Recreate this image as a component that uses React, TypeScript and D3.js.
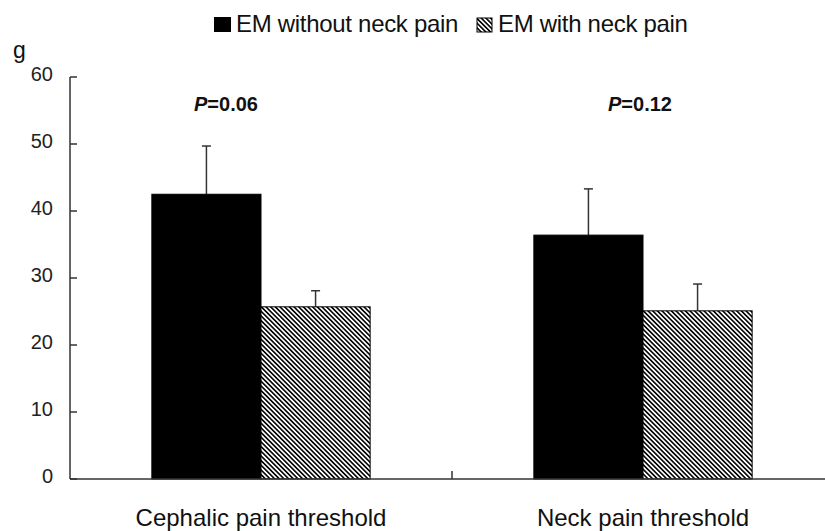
import React from "react";
import * as d3 from "d3";

const categories = ["Cephalic pain threshold", "Neck pain threshold"];
const seriesNames = ["EM without neck pain", "EM with neck pain"];
const withoutNeckPain = [42.5, 36.4];
const withoutNeckPainErr = [49.7, 43.3];
const withNeckPain = [25.7, 25.1];
const withNeckPainErr = [28.1, 29.1];
const pLabels = ["0.06", "0.12"];
const yTicks = [0, 10, 20, 30, 40, 50, 60];
const yUnit = "g";

const W = 825;
const H = 531;
const FONT = "'Liberation Sans', Arial, sans-serif";
const AX = "#333";

export default function App() {
  const y = d3.scaleLinear().domain([0, 60]).range([479, 77]);
  const x0 = d3.scaleBand<string>().domain(categories).range([70, 834]).paddingInner(0).paddingOuter(0);
  const x1 = d3
    .scaleBand<string>()
    .domain(seriesNames)
    .range([0, x0.bandwidth()])
    .paddingInner(0)
    .paddingOuter(0.75);

  const values = [withoutNeckPain, withNeckPain];
  const errs = [withoutNeckPainErr, withNeckPainErr];
  const fills = ["#000", "url(#hatch)"];
  const pOffsets = [-35, -3];

  return (
    <svg
      width={W}
      height={H}
      viewBox={`0 0 ${W} ${H}`}
      style={{ position: "absolute", left: 0, top: 0, display: "block", background: "#fff" }}
    >
      <defs>
        <pattern
          id="hatch"
          patternUnits="userSpaceOnUse"
          width={3.3}
          height={3.3}
          patternTransform="rotate(-45)"
        >
          <rect width={3.3} height={3.3} fill="#fff" />
          <rect width={1.6} height={3.3} fill="#000" />
        </pattern>
      </defs>
      <rect width={W} height={H} fill="#fff" />

      {/* Legend */}
      <g fontFamily={FONT} fontSize={24} fill="#111">
        <rect x={214} y={17} width={17} height={15} fill="#000" />
        <text x={236} y={32} letterSpacing={-0.3}>{seriesNames[0]}</text>
        <rect x={477} y={18} width={15} height={14} fill="url(#hatch)" stroke="#000" strokeWidth={1} />
        <text x={498} y={32} letterSpacing={-0.3}>{seriesNames[1]}</text>
      </g>

      {/* Bars */}
      {categories.map((c, ci) =>
        seriesNames.map((s, si) => {
          const bx = (x0(c) ?? 0) + (x1(s) ?? 0);
          const bw = x1.bandwidth();
          const v = values[si][ci];
          const e = errs[si][ci];
          const cx = bx + bw / 2;
          return (
            <g key={c + s}>
              <line x1={cx} x2={cx} y1={y(v)} y2={y(e)} stroke={AX} strokeWidth={1.5} />
              <line x1={cx - 4.5} x2={cx + 4.5} y1={y(e)} y2={y(e)} stroke={AX} strokeWidth={1.5} />
              <rect
                x={bx}
                y={y(v)}
                width={bw}
                height={y(0) - y(v)}
                fill={fills[si]}
                stroke="#000"
                strokeWidth={1}
              />
            </g>
          );
        })
      )}

      {/* P labels */}
      {categories.map((c, ci) => (
        <text
          key={"p" + c}
          x={(x0(c) ?? 0) + x0.bandwidth() / 2 + pOffsets[ci]}
          y={111}
          textAnchor="middle"
          fontFamily={FONT}
          fontSize={20}
          fontWeight="bold"
          fill="#111"
        >
          <tspan fontStyle="italic">P</tspan>={pLabels[ci]}
        </text>
      ))}

      {/* Y axis */}
      <line x1={70} x2={70} y1={y(60)} y2={y(0)} stroke={AX} strokeWidth={1.5} />
      {yTicks.map((t) => (
        <g key={t}>
          <line x1={70} x2={77} y1={y(t)} y2={y(t)} stroke={AX} strokeWidth={1.5} />
          <text
            x={53}
            y={y(t)}
            dy="0.2em"
            textAnchor="end"
            fontFamily={FONT}
            fontSize={20}
            fill="#222"
          >
            {t}
          </text>
        </g>
      ))}
      <text x={13} y={58} fontFamily={FONT} fontSize={23} fill="#111">
        {yUnit}
      </text>

      {/* X axis */}
      <line x1={70} x2={834} y1={y(0)} y2={y(0)} stroke={AX} strokeWidth={1.5} />
      {categories.slice(1).map((c) => (
        <line key={"xt" + c} x1={x0(c)} x2={x0(c)} y1={y(0)} y2={y(0) - 8} stroke={AX} strokeWidth={1.5} />
      ))}
      {categories.map((c) => (
        <text
          key={"xl" + c}
          x={(x0(c) ?? 0) + x0.bandwidth() / 2}
          y={526}
          textAnchor="middle"
          fontFamily={FONT}
          fontSize={24}
          fill="#111"
        >
          {c}
        </text>
      ))}
    </svg>
  );
}
